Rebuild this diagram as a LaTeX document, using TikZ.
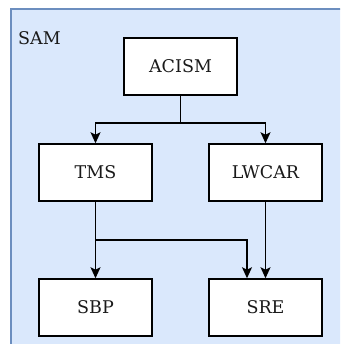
\documentclass[tikz,border=0pt]{standalone}
\usepackage{fontspec}
\setmainfont{DejaVu Serif}
\usetikzlibrary{arrows.meta}
\definecolor{groupfill}{HTML}{DAE8FC}
\definecolor{groupline}{HTML}{6C8EBF}
\definecolor{inktext}{HTML}{1A1A1A}
\tikzset{
  blockbox/.style={draw=black, fill=white, line width=1.5pt,
    minimum width=113pt, minimum height=57pt, inner sep=0pt,
    text=inktext, font=\fontsize{17.5}{20}\selectfont},
  arr/.style={draw=black, line width=1.5pt,
    -{Stealth[length=11pt,width=10pt,inset=2.5pt]}},
}
\begin{document}
\begin{tikzpicture}[x=1pt,y=-1pt]
  \useasboundingbox (0,0) rectangle (340,344);
  \clip (0,0) rectangle (340,344);
  % enclosing group
  \draw[groupline, fill=groupfill, line width=1.5pt] (11,9) rectangle (352,356);
  \node[anchor=west, inner sep=0pt, text=inktext, font=\fontsize{17.5}{20}\selectfont] (sam) at (18,38.5) {SAM};
  % blocks
  \node[blockbox] (acism) at (180.5,66.5) {ACISM};
  \node[blockbox] (tms)   at (95.5,172.5) {TMS};
  \node[blockbox] (lwcar) at (265.5,172.5) {LWCAR};
  \node[blockbox] (sbp)   at (95.5,307.5) {SBP};
  \node[blockbox] (sre)   at (265.5,307.5) {SRE};
  % connectors
  \coordinate (split) at (180.5,123);
  \coordinate (bend)  at (247,240);
  \draw[arr] (acism.south) -- (split) -| (tms.north);
  \draw[arr] (split) -| (lwcar.north);
  \draw[arr] (tms.south) -- (sbp.north);
  \draw[arr] (tms.south) |- (bend) -- (bend |- sre.north);
  \draw[arr] (lwcar.south) -- (sre.north);
\end{tikzpicture}
\end{document}
